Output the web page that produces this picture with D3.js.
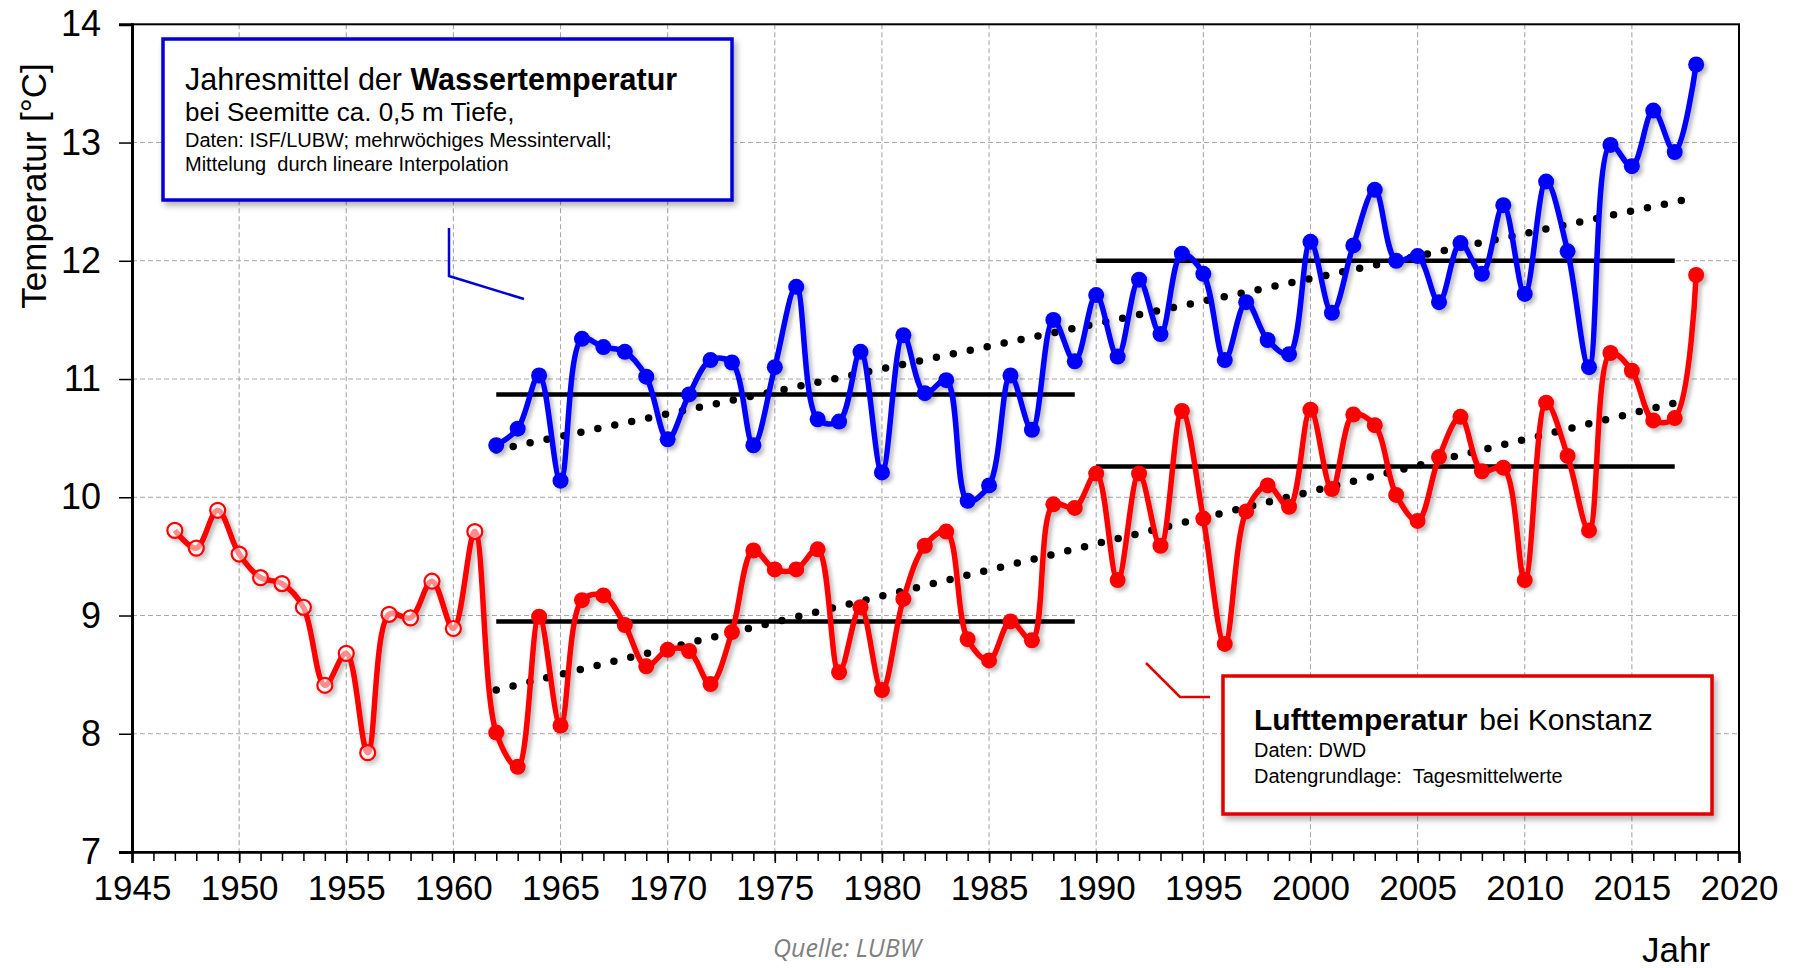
<!DOCTYPE html>
<html><head><meta charset="utf-8">
<script src="https://cdn.jsdelivr.net/npm/d3@7"></script>
<style>
body{margin:0;background:#fff}
svg{display:block}
text{font-family:"Liberation Sans",Arial,sans-serif;fill:#000}
</style>
</head><body>
<svg id="c" width="1796" height="968"></svg>
<script>
// ---------- DATA ----------
const waterYears = [1962,1963,1964,1965,1966,1967,1968,1969,1970,1971,1972,1973,1974,1975,1976,1977,1978,1979,1980,1981,1982,1983,1984,1985,1986,1987,1988,1989,1990,1991,1992,1993,1994,1995,1996,1997,1998,1999,2000,2001,2002,2003,2004,2005,2006,2007,2008,2009,2010,2011,2012,2013,2014,2015,2016,2017,2018];
const waterTemp = [10.44,10.58,11.03,10.14,11.34,11.27,11.23,11.02,10.49,10.87,11.16,11.14,10.44,11.10,11.78,10.66,10.64,11.23,10.21,11.37,10.88,10.99,9.97,10.10,11.03,10.57,11.50,11.15,11.71,11.19,11.84,11.38,12.06,11.89,11.16,11.65,11.33,11.21,12.16,11.56,12.13,12.60,12.00,12.04,11.65,12.15,11.89,12.47,11.72,12.67,12.08,11.10,12.98,12.80,13.27,12.92,13.66];
const airYears = [1947,1948,1949,1950,1951,1952,1953,1954,1955,1956,1957,1958,1959,1960,1961,1962,1963,1964,1965,1966,1967,1968,1969,1970,1971,1972,1973,1974,1975,1976,1977,1978,1979,1980,1981,1982,1983,1984,1985,1986,1987,1988,1989,1990,1991,1992,1993,1994,1995,1996,1997,1998,1999,2000,2001,2002,2003,2004,2005,2006,2007,2008,2009,2010,2011,2012,2013,2014,2015,2016,2017,2018];
const airTemp = [9.72,9.57,9.89,9.52,9.32,9.27,9.07,8.41,8.68,7.84,9.01,8.98,9.29,8.89,9.71,8.01,7.72,8.99,8.07,9.13,9.17,8.92,8.57,8.71,8.70,8.42,8.86,9.55,9.39,9.39,9.56,8.52,9.07,8.37,9.14,9.59,9.71,8.80,8.62,8.95,8.79,9.94,9.91,10.20,9.30,10.20,9.59,10.73,9.82,8.76,9.88,10.10,9.92,10.74,10.07,10.70,10.61,10.02,9.80,10.34,10.68,10.22,10.25,9.30,10.80,10.35,9.72,11.22,11.07,10.65,10.67,11.88];
const airOpenUntil = 1961; // hollow markers up to this year
// period means [from, to, value]
const waterMeans = [[1962,1989,10.87],[1990,2017,12.00]];
const airMeans = [[1962,1989,8.95],[1990,2017,10.26]];
// linear trends [[x0,y0],[x1,y1]]
const waterTrend = [[1962,10.40],[2017.6,12.52]];
const airTrend = [[1962,8.37],[2017.5,10.82]];
const xTicks = [1945,1950,1955,1960,1965,1970,1975,1980,1985,1990,1995,2000,2005,2010,2015,2020];
const yTicks = [7,8,9,10,11,12,13,14];
const waterLegend = ["Jahresmittel der ","Wassertemperatur","bei Seemitte ca. 0,5 m Tiefe,","Daten: ISF/LUBW; mehrwöchiges Messintervall;","Mittelung  durch lineare Interpolation"];
const airLegend = ["Lufttemperatur","bei Konstanz","Daten: DWD","Datengrundlage:  Tagesmittelwerte"];

// ---------- CHART ----------
const svg = d3.select("#c");
const L=132,R=1739,T=24.3,B=852;
const x = d3.scaleLinear().domain([1945,2020]).range([L,R]);
const y = d3.scaleLinear().domain([7,14]).range([B,T]);
const BLUE="#0000ff", RED="#ff0000";

const defs = svg.append("defs");
const f = defs.append("filter").attr("id","sh").attr("x","-20%").attr("y","-20%").attr("width","140%").attr("height","140%");
f.append("feDropShadow").attr("dx",3).attr("dy",3).attr("stdDeviation",2).attr("flood-color","#000").attr("flood-opacity",0.28);
const f2 = defs.append("filter").attr("id","bsh").attr("x","-10%").attr("y","-10%").attr("width","120%").attr("height","130%");
f2.append("feDropShadow").attr("dx",3).attr("dy",4).attr("stdDeviation",3).attr("flood-color","#000").attr("flood-opacity",0.3);

// grid
const g = svg.append("g");
g.selectAll("line.hg").data(yTicks.filter(v=>v>7&&v<14)).join("line")
 .attr("x1",L).attr("x2",R).attr("y1",d=>y(d)).attr("y2",d=>y(d))
 .attr("stroke","#a8a8a8").attr("stroke-width",1.1).attr("stroke-dasharray","5,3");
g.selectAll("line.vg").data(xTicks.filter(v=>v>1945&&v<2020)).join("line")
 .attr("x1",d=>x(d)).attr("x2",d=>x(d)).attr("y1",T).attr("y2",B)
 .attr("stroke","#a8a8a8").attr("stroke-width",1.1).attr("stroke-dasharray","5,3");

// frame
svg.append("rect").attr("x",L).attr("y",T).attr("width",R-L).attr("height",B-T)
 .attr("fill","none").attr("stroke","#000").attr("stroke-width",2);

// axes
const xAxis = d3.axisBottom(x).tickValues(xTicks).tickFormat(d3.format("d")).tickSize(11).tickPadding(12);
const gx = svg.append("g").attr("transform",`translate(0,${B})`).call(xAxis);
gx.select(".domain").attr("stroke-width",2.5);
gx.selectAll("text").style("font-size","35px").attr("fill","#000");
gx.selectAll("line").attr("stroke-width",1.5);
const minor = d3.axisBottom(x).tickValues(d3.range(1945,2021)).tickFormat("").tickSize(9);
const gm = svg.append("g").attr("transform",`translate(0,${B})`).call(minor);
gm.select(".domain").remove();
gm.selectAll("line").attr("stroke-width",1.5);

const yAxis = d3.axisLeft(y).tickValues(yTicks).tickFormat(d3.format("d")).tickSize(13).tickPadding(18);
const gy = svg.append("g").attr("transform",`translate(${L},0)`).call(yAxis);
gy.select(".domain").attr("stroke-width",3);
gy.selectAll("text").style("font-size","36px").attr("fill","#000");
gy.selectAll("line").attr("stroke-width",1.5);

// axis titles
svg.append("text").attr("transform","translate(46,186) rotate(-90)").attr("text-anchor","middle")
 .style("font-size","35px").text("Temperatur [°C]");
svg.append("text").attr("x",1676).attr("y",962).attr("text-anchor","middle").style("font-size","35px").text("Jahr");
svg.append("text").attr("x",847).attr("y",957).attr("text-anchor","middle")
 .style("font-family","'Open Sans',sans-serif").style("font-style","italic").style("font-size","25px")
 .style("fill","#808080").text("Quelle: LUBW");

// means and trends
const lineGen = d3.line().x(d=>x(d[0])).y(d=>y(d[1]));
[...waterMeans,...airMeans].forEach(m=>{
  svg.append("path").attr("d",lineGen([[m[0],m[2]],[m[1],m[2]]]))
   .attr("stroke","#000").attr("stroke-width",4.5).attr("fill","none");
});
[waterTrend,airTrend].forEach(t=>{
  svg.append("path").attr("d",lineGen(t)).attr("stroke","#000").attr("stroke-width",7.5)
   .attr("stroke-linecap","round").attr("stroke-dasharray","0,17.3").attr("fill","none");
});

// series
const curve = d3.curveCatmullRom.alpha(0.5);
const sline = d3.line().x(d=>x(d[0])).y(d=>y(d[1])).curve(curve);
const water = waterYears.map((yr,i)=>[yr,waterTemp[i]]);
const air = airYears.map((yr,i)=>[yr,airTemp[i]]);

function series(data, color, openUntil){
  const gs = svg.append("g").attr("filter","url(#sh)");
  gs.append("path").attr("d",sline(data)).attr("fill","none").attr("stroke",color)
   .attr("stroke-width",5.5).attr("stroke-linejoin","round");
  gs.selectAll("circle").data(data).join("circle")
   .attr("cx",d=>x(d[0])).attr("cy",d=>y(d[1]))
   .attr("r",d=>d[0]<=openUntil?7.5:8)
   .attr("fill",d=>d[0]<=openUntil?"rgba(255,255,255,0.55)":color)
   .attr("stroke",color).attr("stroke-width",d=>d[0]<=openUntil?2.2:0);
}
series(water, BLUE, 0);
series(air, RED, airOpenUntil);

// water legend box
svg.append("rect").attr("x",163).attr("y",39).attr("width",569).attr("height",161)
 .attr("fill","#fff").attr("stroke","#0000d8").attr("stroke-width",3.5).attr("filter","url(#bsh)");
const t1 = svg.append("text").attr("x",185).attr("y",90).style("font-size","30.5px");
t1.append("tspan").text(waterLegend[0]);
t1.append("tspan").style("font-weight","bold").text(waterLegend[1]);
svg.append("text").attr("x",185).attr("y",121).style("font-size","26px").text(waterLegend[2]);
svg.append("text").attr("x",185).attr("y",146.5).style("font-size","20px").text(waterLegend[3]);
svg.append("text").attr("x",185).attr("y",170.5).style("font-size","20px").attr("xml:space","preserve").text(waterLegend[4]);
svg.append("path").attr("d","M449,228 L449,276 L524,299").attr("fill","none")
 .attr("stroke","#0000d8").attr("stroke-width",2.5);

// air legend box
svg.append("rect").attr("x",1223).attr("y",676).attr("width",489).attr("height",138)
 .attr("fill","#fff").attr("stroke","#e00000").attr("stroke-width",3.5).attr("filter","url(#bsh)");
const t2 = svg.append("text").attr("x",1254).attr("y",730).style("font-size","30px");
t2.append("tspan").style("font-weight","bold").text(airLegend[0]);
t2.append("tspan").attr("dx",12).text(airLegend[1]);
svg.append("text").attr("x",1254).attr("y",757).style("font-size","20px").text(airLegend[2]);
svg.append("text").attr("x",1254).attr("y",782.5).style("font-size","20px").attr("xml:space","preserve").text(airLegend[3]);
svg.append("path").attr("d","M1146,663 L1180,697 L1210,697").attr("fill","none")
 .attr("stroke","#e00000").attr("stroke-width",2.5);
</script>
</body></html>
